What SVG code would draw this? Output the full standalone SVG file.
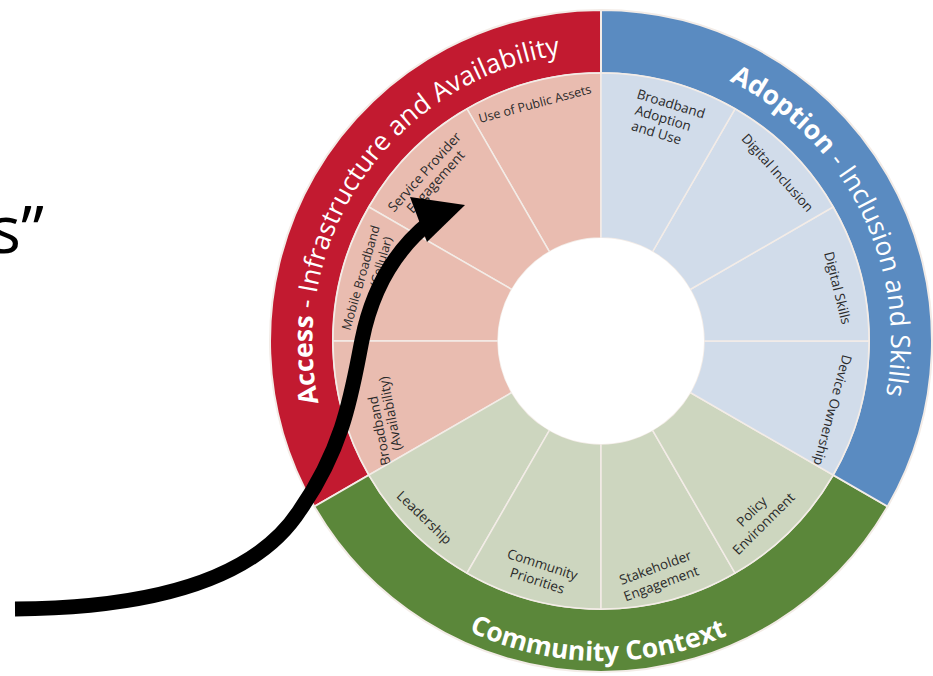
<svg xmlns="http://www.w3.org/2000/svg" width="933" height="676" viewBox="0 0 933 676">
  <style>
    .band { stroke: #f3ece7; stroke-width: 2; }
    .wedge { stroke: #f3ece7; stroke-width: 1.5; }
    .red { fill: #c21a30; }
    .blue { fill: #5a8bc1; }
    .green { fill: #5b873a; }
    .pink { fill: #e9bcb0; }
    .sky { fill: #d1dcea; }
    .sage { fill: #cdd6bf; }
    .ring-title { font-family: "Open Sans", "Noto Sans", sans-serif; font-size: 26.5px; fill: #ffffff; }
    .label { font-family: "Open Sans", "Noto Sans", sans-serif; font-size: 13.5px; fill: #2a2a2a; text-anchor: middle; }
    .small { font-size: 12.5px; }
    .quote { font-family: "Open Sans", "Noto Sans", sans-serif; font-size: 66px; fill: #000000; text-anchor: end; }
  </style>
  <defs>
    <path id="arc-access" d="M363.4,507.3 A291,291 0 0 1 673.6,60.3"/>
    <path id="arc-adoption" d="M570.7,52.6 A290,290 0 0 1 813.1,538.8"/>
    <path id="arc-community" d="M304.9,448.7 A315,315 0 0 0 897.1,458.1"/>
  </defs>

  <rect width="933" height="676" fill="#ffffff"/>

  <!-- quotation fragment at left edge -->
  <text class="quote" x="44" y="253">s”</text>

  <!-- outer bands -->
  <g id="access">
    <path class="band red" d="M601,10 A331,331 0 0 0 314.35,506.5 L368.91,475 A268,268 0 0 1 601,73 Z"/>
    <text class="ring-title"><textPath href="#arc-access" startOffset="50%" text-anchor="middle"><tspan font-weight="bold">Access</tspan> - Infrastructure and Availability</textPath></text>
  </g>
  <g id="community">
    <path class="band green" d="M314.35,506.5 A331,331 0 0 0 887.65,506.5 L833.09,475 A268,268 0 0 1 368.91,475 Z"/>
    <text class="ring-title" font-weight="bold" font-size="23.5"><textPath href="#arc-community" startOffset="50%" text-anchor="middle">Community Context</textPath></text>
  </g>
  <g id="adoption">
    <path class="band blue" d="M887.65,506.5 A331,331 0 0 0 601,10 L601,73 A268,268 0 0 1 833.09,475 Z"/>
    <text class="ring-title" font-size="24"><textPath href="#arc-adoption" startOffset="50%" text-anchor="middle"><tspan font-weight="bold">Adoption</tspan> - Inclusion and Skills</textPath></text>
  </g>

  <!-- Access sub-sectors -->
  <g id="use-of-public-assets">
    <path class="wedge pink" d="M601,73 A268,268 0 0 0 467,108.91 L549.5,251.8 A103,103 0 0 1 601,238 Z"/>
    <text class="label small" transform="translate(536,108) rotate(-15)">Use of Public Assets</text>
  </g>
  <g id="service-provider-engagement">
    <path class="wedge pink" d="M467,108.91 A268,268 0 0 0 368.91,207 L511.8,289.5 A103,103 0 0 1 549.5,251.8 Z"/>
    <text class="label" transform="translate(428,175) rotate(-48)"><tspan x="0" dy="0">Service Provider</tspan><tspan x="0" dy="15">Engagement</tspan></text>
  </g>
  <g id="mobile-broadband">
    <path class="wedge pink" d="M368.91,207 A268,268 0 0 0 333,341 L498,341 A103,103 0 0 1 511.8,289.5 Z"/>
    <text class="label small" transform="translate(365,279) rotate(-74)"><tspan x="0" dy="0">Mobile Broadband</tspan><tspan x="0" dy="15">Access (Cellular)</tspan></text>
  </g>
  <g id="broadband-availability">
    <path class="wedge pink" d="M333,341 A268,268 0 0 0 368.91,475 L511.8,392.5 A103,103 0 0 1 498,341 Z"/>
    <text class="label" transform="translate(384,430) rotate(-101)"><tspan x="0" dy="0">Broadband</tspan><tspan x="15" dy="14">(Availability)</tspan></text>
  </g>

  <!-- Community sub-sectors -->
  <g id="leadership">
    <path class="wedge sage" d="M368.91,475 A268,268 0 0 0 467,573.09 L549.5,430.2 A103,103 0 0 1 511.8,392.5 Z"/>
    <text class="label" transform="translate(421,521) rotate(44)">Leadership</text>
  </g>
  <g id="community-priorities">
    <path class="wedge sage" d="M467,573.09 A268,268 0 0 0 601,609 L601,444 A103,103 0 0 1 549.5,430.2 Z"/>
    <text class="label" transform="translate(541,569) rotate(18)"><tspan x="0" dy="0">Community</tspan><tspan x="0" dy="17">Priorities</tspan></text>
  </g>
  <g id="stakeholder-engagement">
    <path class="wedge sage" d="M601,609 A268,268 0 0 0 735,573.09 L652.5,430.2 A103,103 0 0 1 601,444 Z"/>
    <text class="label" transform="translate(657,572) rotate(-20)"><tspan x="0" dy="0">Stakeholder</tspan><tspan x="0" dy="17">Engagement</tspan></text>
  </g>
  <g id="policy-environment">
    <path class="wedge sage" d="M735,573.09 A268,268 0 0 0 833.09,475 L690.2,392.5 A103,103 0 0 1 652.5,430.2 Z"/>
    <text class="label" transform="translate(755,515) rotate(-45)"><tspan x="0" dy="0">Policy</tspan><tspan x="0" dy="17">Environment</tspan></text>
  </g>

  <!-- Adoption sub-sectors -->
  <g id="device-ownership">
    <path class="wedge sky" d="M833.09,475 A268,268 0 0 0 869,341 L704,341 A103,103 0 0 1 690.2,392.5 Z"/>
    <text class="label" transform="translate(828,409) rotate(105)">Device Ownership</text>
  </g>
  <g id="digital-skills">
    <path class="wedge sky" d="M869,341 A268,268 0 0 0 833.09,207 L690.2,289.5 A103,103 0 0 1 704,341 Z"/>
    <text class="label" transform="translate(833,289) rotate(76)">Digital Skills</text>
  </g>
  <g id="digital-inclusion">
    <path class="wedge sky" d="M833.09,207 A268,268 0 0 0 735,108.91 L652.5,251.8 A103,103 0 0 1 690.2,289.5 Z"/>
    <text class="label" transform="translate(774,176) rotate(48)">Digital Inclusion</text>
  </g>
  <g id="broadband-adoption-and-use">
    <path class="wedge sky" d="M735,108.91 A268,268 0 0 0 601,73 L601,238 A103,103 0 0 1 652.5,251.8 Z"/>
    <text class="label" style="text-anchor:start" transform="translate(636,98) rotate(17)"><tspan x="0" dy="0">Broadband</tspan><tspan x="3" dy="16">Adoption</tspan><tspan x="4" dy="16">and Use</tspan></text>
  </g>

  <!-- hub -->
  <circle cx="601" cy="341" r="103" fill="#ffffff"/>

  <!-- connectors -->
  <g id="connectors">
    <path d="M15,609 C150,608 255,580 300,510 C345,445 352,390 362,340 C372,290 395,250 430,222" fill="none" stroke="#000000" stroke-width="15"/>
    <polygon points="410,197 465,205 427,242" fill="#000000"/>
  </g>
</svg>
